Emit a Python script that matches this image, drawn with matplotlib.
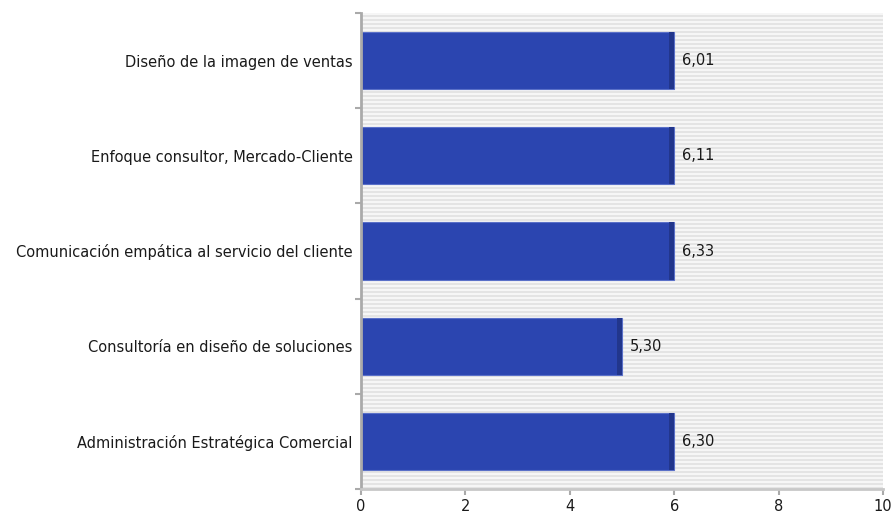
import matplotlib.pyplot as plt
from matplotlib.patches import Rectangle

categories = [
    'Diseño de la imagen de ventas',
    'Enfoque consultor, Mercado-Cliente',
    'Comunicación empática al servicio del cliente',
    'Consultoría en diseño de soluciones',
    'Administración Estratégica Comercial',
]
# bar lengths as drawn in the chart (integer part), labels show the averages
bar_values = [6, 6, 6, 5, 6]
scores = [6.01, 6.11, 6.33, 5.30, 6.30]
xticks = [0, 2, 4, 6, 8, 10]

fig = plt.figure(figsize=(8.96, 5.13), dpi=100)
ax = fig.add_axes([361 / 896, 1 - 489 / 513, 522 / 896, 476 / 513])

# striped background
ax.set_facecolor('#f6f6f6')
n_stripes = 119
for i in range(n_stripes):
    ax.add_patch(Rectangle((0, i / n_stripes), 1, 0.5 / n_stripes, transform=ax.transAxes,
                           facecolor='#e4e4e4', edgecolor='none', zorder=0))

ypos = list(range(len(categories)))[::-1]
ax.barh(ypos, bar_values, height=0.6, color='#2b45b0', edgecolor='#5a70c8', linewidth=0.8, zorder=2)
# darker right edge on each bar
ax.barh(ypos, [0.1] * len(bar_values), left=[v - 0.1 for v in bar_values], height=0.6,
        color='#22368c', edgecolor='none', zorder=3)

for y, v, s in zip(ypos, bar_values, scores):
    ax.text(v + 0.15, y, f'{s:.2f}'.replace('.', ','), va='center', ha='left',
            fontsize=10.5, color='#1a1a1a', zorder=4)

ax.set_xlim(0, 10)
ax.set_ylim(-0.5, len(categories) - 0.5)
ax.set_xticks(xticks)
ax.set_xticklabels([str(t) for t in xticks], fontsize=10.5, color='#1a1a1a')
ax.set_yticks(ypos)
ax.set_yticklabels(categories, fontsize=10.5, color='#1a1a1a')
ax.tick_params(axis='y', length=0, pad=6)
ax.tick_params(axis='x', length=4, color='#aaaaaa', width=1.5, pad=3)
# minor ticks at category boundaries
ax.set_yticks([i - 0.5 for i in range(len(categories) + 1)], minor=True)
ax.tick_params(axis='y', which='minor', length=4, color='#aaaaaa', width=1.5)

for side in ['top', 'right']:
    ax.spines[side].set_visible(False)
ax.spines['left'].set_color('#aaaaaa')
ax.spines['left'].set_linewidth(2)
ax.spines['bottom'].set_color('#c8c8c8')
ax.spines['bottom'].set_linewidth(2)

fig.savefig('out.png', dpi=100)
